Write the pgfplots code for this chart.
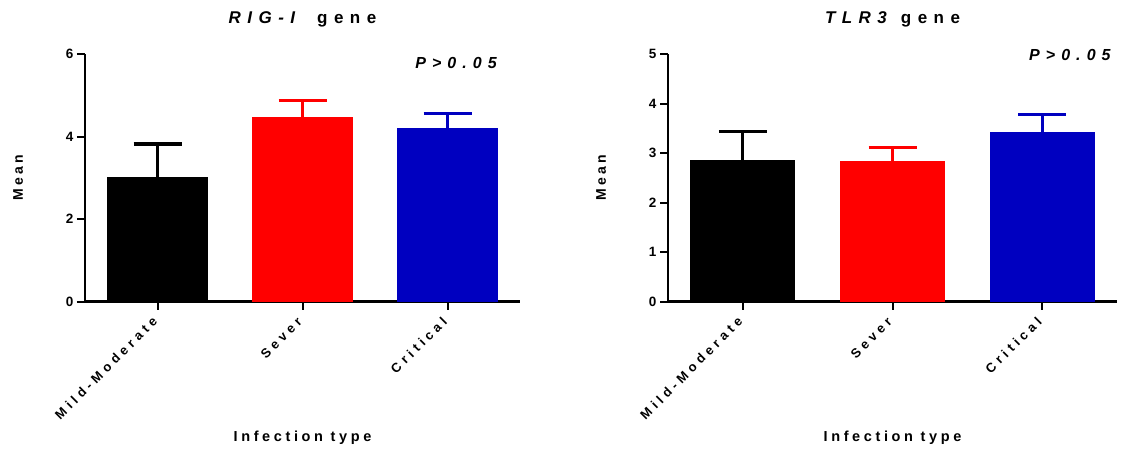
\documentclass[border=0pt]{standalone}
\usepackage{fontspec}
\setmainfont{Liberation Sans}
\newfontfamily\lsA[LetterSpace=32]{Liberation Sans}
\newfontfamily\lsB[LetterSpace=25]{Liberation Sans}
\newfontfamily\lsT[LetterSpace=38]{Liberation Sans}
\usepackage{pgfplots}
\pgfplotsset{compat=1.18}
\definecolor{cblue}{RGB}{0,0,192}
\definecolor{cred}{RGB}{255,0,0}
\tikzset{pv/.style={font=\fontsize{16}{18}\selectfont\lsT\bfseries\itshape, anchor=center}}
\pgfplotsset{
  gp/.style={
    scale only axis,
    anchor=south west,
    axis x line*=bottom,
    axis y line*=left,
    axis line style={line width=2.2pt, black},
    tick style={line width=2pt, black},
    major tick length=8pt,
    tick align=outside,
    xmin=-0.5, xmax=2.5, ymin=0,
    xtick={0,1,2},
    xticklabels={Mild-Moderate,Sever,Critical},
    /pgf/number format/assume math mode=true,
    yticklabel style={font=\fontsize{13.5}{15}\selectfont\bfseries},
    xticklabel style={font=\fontsize{13}{15}\selectfont\lsA\bfseries, yshift=-9pt, xshift=-2pt, rotate=45, anchor=east, inner sep=1pt},
    title style={at={(axis description cs:0.5,1.116)}, yshift=0pt, anchor=center, font=\fontsize{17}{19}\selectfont\lsT\bfseries},
    xlabel={Infection type},
    xlabel style={at={(axis description cs:0.5,-0.5515)}, anchor=center, font=\fontsize{14.5}{16}\selectfont\lsB\bfseries},
    ylabel={Mean},
    ylabel style={anchor=center, font=\fontsize{14}{16}\selectfont\lsB\bfseries},
    clip=false,
  },
  eb/.style={ybar, bar width=0.7, bar shift=0pt, fill=#1, draw=none,
    error bars/.cd, y dir=plus, y explicit,
    error bar style={line width=3pt, #1},
    error mark options={rotate=90, mark size=24pt, line width=3.2pt, #1}},
}
\begin{document}
\begin{tikzpicture}
\path (0pt,0pt) rectangle (1121pt,450pt);
\begin{axis}[gp, at={(85pt,148.5pt)}, width=435pt, height=247.5pt,
  ymax=6, ytick={0,2,4,6},
  ylabel style={at={(axis description cs:-0.154,0.5)}},
  title={\itshape RIG-I\hspace{22pt}\upshape gene}]
\addplot[eb=black] coordinates {(0,3.03) +- (0,0.79)};
\addplot[eb=cred] coordinates {(1,4.48) +- (0,0.39)};
\addplot[eb=cblue] coordinates {(2,4.20) +- (0,0.35)};
\node[pv] at (axis description cs:0.853,0.964) {P>0.05};
\end{axis}
\begin{axis}[gp, at={(668pt,148.5pt)}, width=449pt, height=247.5pt,
  ymax=5, ytick={0,1,2,3,4,5},
  ylabel style={at={(axis description cs:-0.149,0.5)}},
  title={\itshape TLR3\hspace{14pt}\upshape gene}]
\addplot[eb=black] coordinates {(0,2.86) +- (0,0.57)};
\addplot[eb=cred] coordinates {(1,2.84) +- (0,0.27)};
\addplot[eb=cblue] coordinates {(2,3.43) +- (0,0.34)};
\node[pv] at (axis description cs:0.895,0.996) {P>0.05};
\end{axis}
\end{tikzpicture}
\end{document}
